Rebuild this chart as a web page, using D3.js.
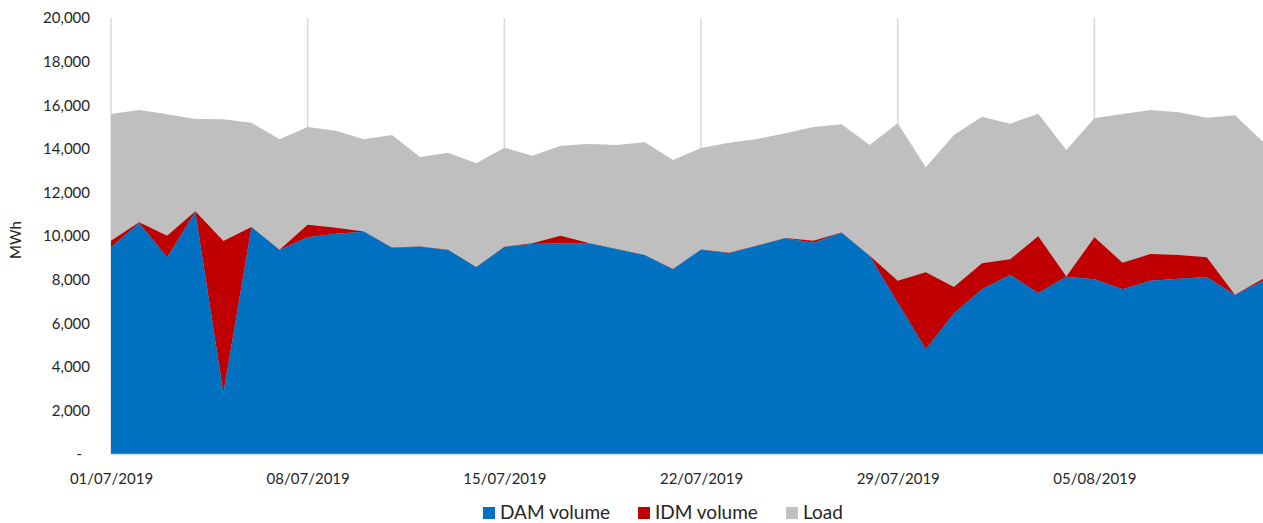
<!DOCTYPE html>
<html>
<head>
<meta charset="utf-8">
<script src="https://cdn.jsdelivr.net/npm/d3@7"></script>
<style>
  body { margin: 0; background: #fff; }
  text { font-family: Lato, "Open Sans", sans-serif; fill: #262626; }
</style>
</head>
<body>
<svg id="chart" width="1263" height="523"></svg>
<script>
// daily values, 01/07/2019 .. 11/08/2019
var startDay = "2019-07-01", endDay = "2019-08-12";
var dam = [9480, 10596, 9021, 11116, 2783, 10398, 9358, 9939, 10107, 10199, 9465, 9511, 9358, 8563,
  9495, 9633, 9664, 9664, 9388, 9113, 8471, 9373, 9205, 9557, 9893, 9694, 10153, 9083,
  6942, 4801, 6453, 7554, 8211, 7385, 8135, 8012, 7554, 7951, 8043, 8119, 7294, 7951];
var idm = [306, 30, 994, 20, 6988, 20, 10, 580, 275, 10, 10, 10, 10, 10,
  10, 30, 350, 10, 10, 20, 10, 10, 30, 10, 20, 90, 10, 10,
  1009, 3532, 1208, 1192, 719, 2600, 10, 1927, 1223, 1223, 1085, 902, 10, 90];
var load = [15596, 15780, 15583, 15367, 15353, 15197, 14436, 15000, 14830, 14436, 14633, 13624, 13821, 13335,
  14050, 13683, 14142, 14220, 14174, 14298, 13486, 14037, 14280, 14450, 14711, 15000, 15122, 14174,
  15170, 13151, 14633, 15472, 15151, 15610, 13945, 15399, 15596, 15780, 15674, 15427, 15536, 14326];
var xTicks = ["01/07/2019", "08/07/2019", "15/07/2019", "22/07/2019", "29/07/2019", "05/08/2019"];
var yTicks = [0, 2000, 4000, 6000, 8000, 10000, 12000, 14000, 16000, 18000, 20000];
var seriesNames = ["DAM volume", "IDM volume", "Load"];
var colors = ["#0070c0", "#c00000", "#bfbfbf"];

var parse = d3.timeParse("%Y-%m-%d"), parseTick = d3.timeParse("%d/%m/%Y");
var days = d3.timeDay.range(parse(startDay), parse(endDay));
var data = days.map(function(d, i) {
  return {date: d, dam: dam[i], idm: idm[i], load: load[i]};
});

var plotLeft = 111, plotRight = 1263, plotTop = 18, plotBottom = 454;
var svg = d3.select("#chart");

var x = d3.scaleTime()
  .domain(d3.extent(days))
  .range([plotLeft, plotRight]);
var y = d3.scaleLinear()
  .domain([0, 20000])
  .range([plotBottom, plotTop]);

// vertical gridlines at the weekly ticks
svg.append("g")
  .selectAll("line")
  .data(xTicks.map(parseTick))
  .enter().append("line")
  .attr("x1", function(d) { return x(d); })
  .attr("x2", function(d) { return x(d); })
  .attr("y1", plotTop)
  .attr("y2", plotBottom)
  .attr("stroke", "#d9d9d9")
  .attr("stroke-width", 1.5);

svg.append("path")
  .datum(data)
  .attr("fill", colors[2])
  .attr("d", d3.area()
    .x(function(d) { return x(d.date); })
    .y0(y(0))
    .y1(function(d) { return y(d.load); }));

svg.append("path")
  .datum(data)
  .attr("fill", colors[1])
  .attr("d", d3.area()
    .x(function(d) { return x(d.date); })
    .y0(function(d) { return y(d.dam); })
    .y1(function(d) { return y(d.dam + d.idm); }));

svg.append("path")
  .datum(data)
  .attr("fill", colors[0])
  .attr("d", d3.area()
    .x(function(d) { return x(d.date); })
    .y0(y(0))
    .y1(function(d) { return y(d.dam); }));

// x axis
var gx = svg.append("g")
  .attr("transform", "translate(0," + plotBottom + ")")
  .call(d3.axisBottom(x)
    .tickValues(xTicks.map(parseTick))
    .tickFormat(d3.timeFormat("%d/%m/%Y"))
    .tickSize(0)
    .tickPadding(19));
gx.select(".domain").attr("stroke", "#d9d9d9").attr("stroke-width", 1.5);
gx.selectAll("text").style("font-size", "15px");

// y axis
var gy = svg.append("g")
  .attr("transform", "translate(" + plotLeft + ",0)")
  .call(d3.axisLeft(y)
    .tickValues(yTicks)
    .tickFormat(function(d) { return d === 0 ? "-" : d3.format(",")(d); })
    .tickSize(0)
    .tickPadding(21));
gy.select(".domain").remove();
gy.selectAll("text").style("font-size", "15px");
gy.selectAll(".tick").filter(function(d) { return d === 0; })
  .select("text").attr("dx", -8);

svg.append("text")
  .attr("transform", "translate(21,240) rotate(-90)")
  .attr("text-anchor", "middle")
  .style("font-size", "15px")
  .text("MWh");

// legend
var legendX = [483, 638, 786];
var legend = svg.append("g")
  .selectAll("g")
  .data(seriesNames)
  .enter().append("g")
  .attr("transform", function(d, i) { return "translate(" + legendX[i] + ",507)"; });
legend.append("rect")
  .attr("width", 12)
  .attr("height", 12)
  .attr("fill", function(d, i) { return colors[i]; });
legend.append("text")
  .attr("x", 17)
  .attr("y", 12)
  .style("font-size", "19px")
  .text(function(d) { return d; });
</script>
</body>
</html>
